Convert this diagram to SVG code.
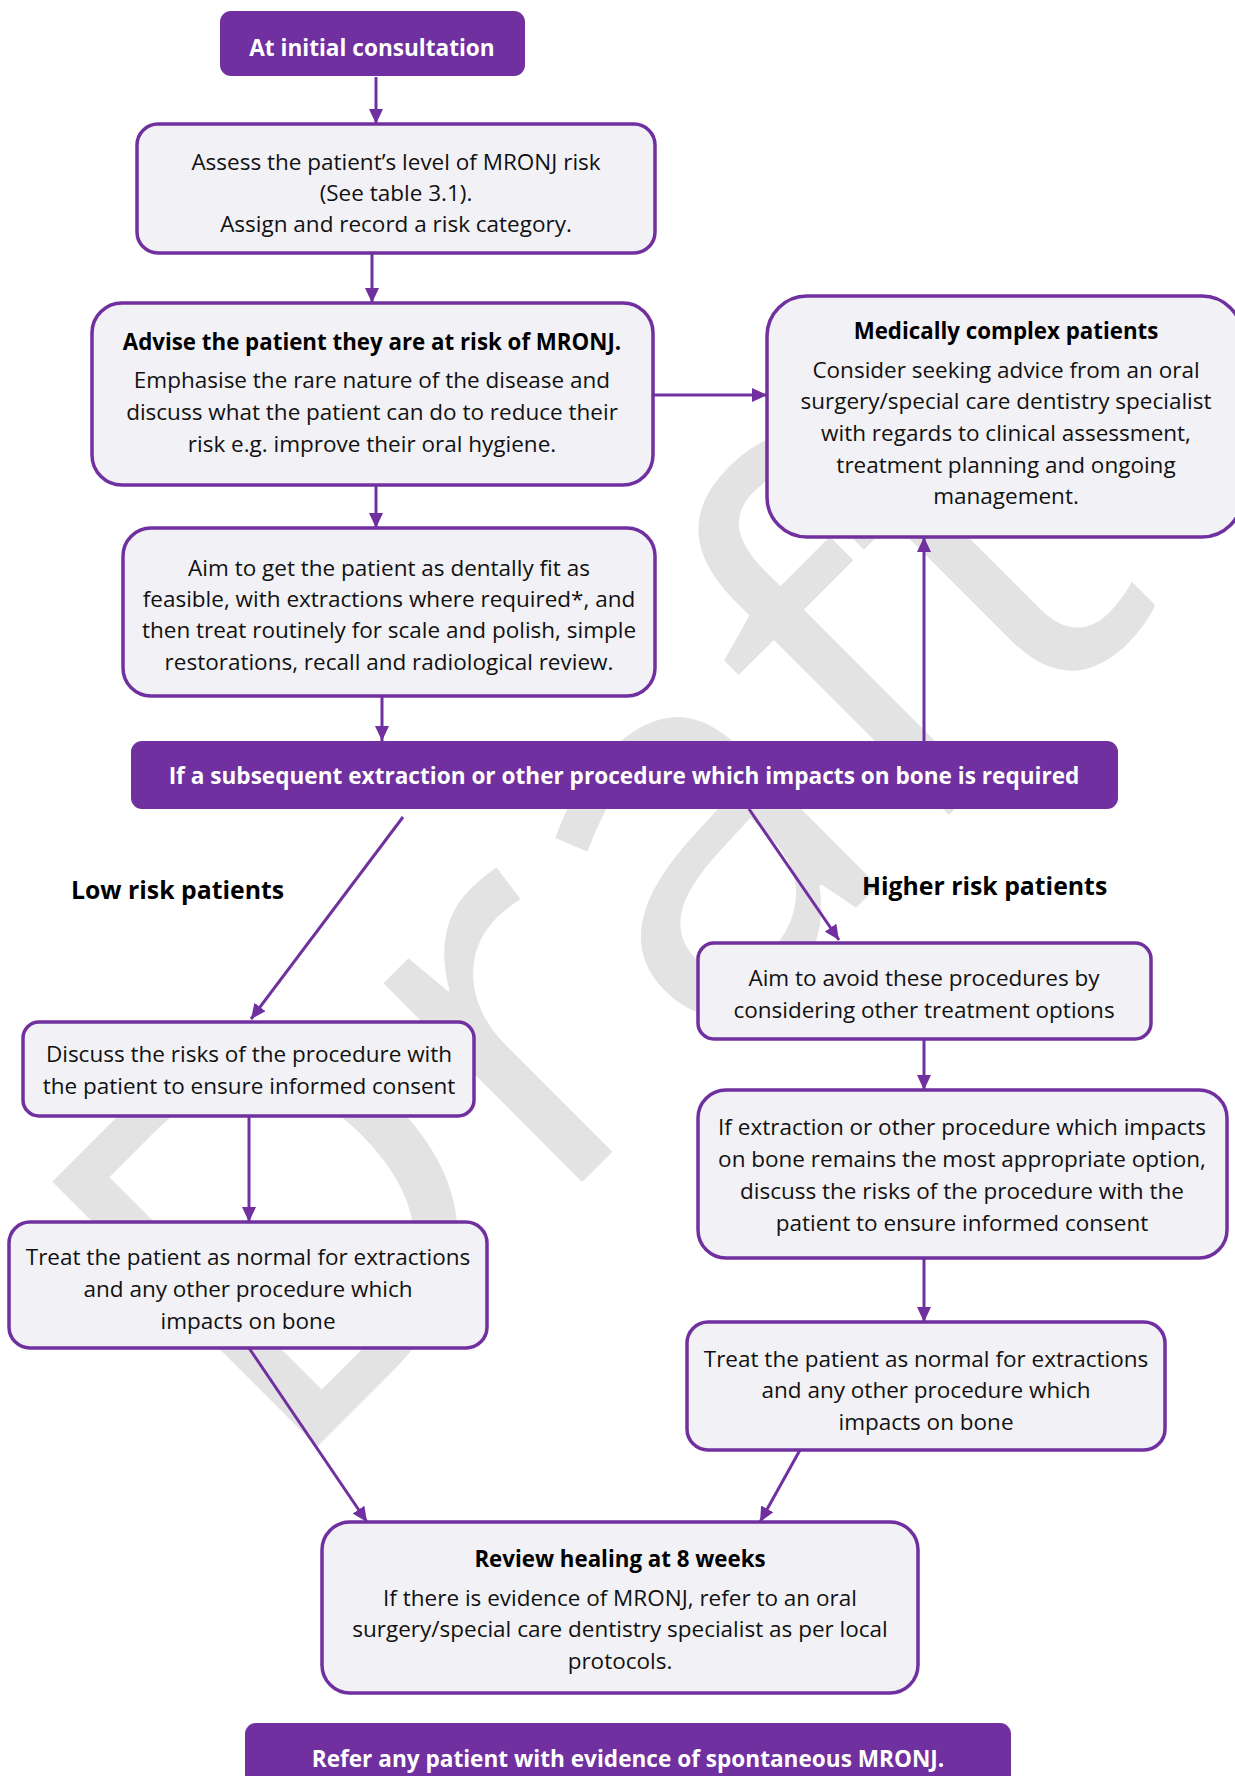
<svg xmlns="http://www.w3.org/2000/svg" width="1235" height="1776" viewBox="0 0 1235 1776">
<style>
.box{fill:#f2f1f6;stroke:#7030a0;stroke-width:3.5}
.ban{fill:#7030a0}
.t{font-family:"Open Sans","Noto Sans",sans-serif;font-size:22.5px;fill:#111;text-anchor:middle}
.b{font-family:"Open Sans","Noto Sans",sans-serif;font-size:22.3px;font-weight:bold;fill:#000;text-anchor:middle}
.w{font-family:"Open Sans","Noto Sans",sans-serif;font-size:22.6px;font-weight:bold;fill:#fff;text-anchor:middle}
.lab{font-family:"Open Sans","Noto Sans",sans-serif;font-size:24.8px;font-weight:bold;fill:#000}
.c{stroke:#7030a0;stroke-width:3;fill:none;marker-end:url(#ah)}
.wm{font-family:"Open Sans","Noto Sans",sans-serif;font-size:525px;fill:#e3e3e3}
</style>
<defs>
<marker id="ah" viewBox="0 0 15 14" markerWidth="15" markerHeight="14" refX="15" refY="7" orient="auto" markerUnits="userSpaceOnUse">
<path d="M0,0 L15,7 L0,14 z" fill="#7030a0"/>
</marker>
</defs>
<rect width="1235" height="1776" fill="#fff"/>
<text class="wm" transform="translate(281,1483) rotate(-45)">Draft</text>

<g id="connectors">
<line class="c" x1="376" y1="77" x2="376" y2="124"/>
<line class="c" x1="372" y1="253" x2="372" y2="303"/>
<line class="c" x1="653" y1="395" x2="767" y2="395"/>
<line class="c" x1="376" y1="485" x2="376" y2="528"/>
<line class="c" x1="382" y1="696" x2="382" y2="741"/>
<line class="c" x1="924" y1="741" x2="924" y2="537"/>
<line class="c" x1="403" y1="817" x2="251" y2="1019"/>
<line class="c" x1="749" y1="809" x2="839" y2="940"/>
<line class="c" x1="924" y1="1039" x2="924" y2="1090"/>
<line class="c" x1="924" y1="1258" x2="924" y2="1322"/>
<line class="c" x1="249" y1="1116" x2="249" y2="1222"/>
<line class="c" x1="249" y1="1348" x2="367" y2="1522"/>
<line class="c" x1="800" y1="1450" x2="760" y2="1522"/>
</g>

<g id="n1">
<rect class="ban" x="220" y="11" width="305" height="65" rx="11"/>
<text class="w" x="372" y="56">At initial consultation</text>
</g>
<g id="n2">
<rect class="box" x="137" y="124" width="518" height="129" rx="21"/>
<text class="t" x="396" y="170">Assess the patient’s level of MRONJ risk</text>
<text class="t" x="396" y="201">(See table 3.1).</text>
<text class="t" x="396" y="232">Assign and record a risk category.</text>
</g>
<g id="n3">
<rect class="box" x="92" y="303" width="561" height="182" rx="30"/>
<text class="b" x="372" y="350">Advise the patient they are at risk of MRONJ.</text>
<text class="t" x="372" y="388">Emphasise the rare nature of the disease and</text>
<text class="t" x="372" y="420">discuss what the patient can do to reduce their</text>
<text class="t" x="372" y="452">risk e.g. improve their oral hygiene.</text>
</g>
<g id="n4">
<rect class="box" x="767" y="296" width="475" height="241" rx="40"/>
<text class="b" x="1006" y="339">Medically complex patients</text>
<text class="t" x="1006" y="378">Consider seeking advice from an oral</text>
<text class="t" x="1006" y="409">surgery/special care dentistry specialist</text>
<text class="t" x="1006" y="441">with regards to clinical assessment,</text>
<text class="t" x="1006" y="473">treatment planning and ongoing</text>
<text class="t" x="1006" y="504">management.</text>
</g>
<g id="n5">
<rect class="box" x="123" y="528" width="532" height="168" rx="28"/>
<text class="t" x="389" y="576">Aim to get the patient as dentally fit as</text>
<text class="t" x="389" y="607">feasible, with extractions where required*, and</text>
<text class="t" x="389" y="638">then treat routinely for scale and polish, simple</text>
<text class="t" x="389" y="670">restorations, recall and radiological review.</text>
</g>
<g id="n6">
<rect class="ban" x="131" y="741" width="987" height="68" rx="11"/>
<text class="w" x="624" y="784">If a subsequent extraction or other procedure which impacts on bone is required</text>
</g>
<g id="lbl-low">
<text class="lab" x="71" y="899">Low risk patients</text>
</g>
<g id="lbl-high">
<text class="lab" x="862" y="895">Higher risk patients</text>
</g>
<g id="n7">
<rect class="box" x="698" y="943" width="453" height="96" rx="16"/>
<text class="t" x="924" y="986">Aim to avoid these procedures by</text>
<text class="t" x="924" y="1018">considering other treatment options</text>
</g>
<g id="n8">
<rect class="box" x="698" y="1090" width="529" height="168" rx="28"/>
<text class="t" x="962" y="1135">If extraction or other procedure which impacts</text>
<text class="t" x="962" y="1167">on bone remains the most appropriate option,</text>
<text class="t" x="962" y="1199">discuss the risks of the procedure with the</text>
<text class="t" x="962" y="1231">patient to ensure informed consent</text>
</g>
<g id="n9">
<rect class="box" x="687" y="1322" width="478" height="128" rx="21"/>
<text class="t" x="926" y="1367">Treat the patient as normal for extractions</text>
<text class="t" x="926" y="1398">and any other procedure which</text>
<text class="t" x="926" y="1430">impacts on bone</text>
</g>
<g id="n10">
<rect class="box" x="23" y="1022" width="451" height="94" rx="16"/>
<text class="t" x="249" y="1062">Discuss the risks of the procedure with</text>
<text class="t" x="249" y="1094">the patient to ensure informed consent</text>
</g>
<g id="n11">
<rect class="box" x="9" y="1222" width="478" height="126" rx="21"/>
<text class="t" x="248" y="1265">Treat the patient as normal for extractions</text>
<text class="t" x="248" y="1297">and any other procedure which</text>
<text class="t" x="248" y="1329">impacts on bone</text>
</g>
<g id="n12">
<rect class="box" x="322" y="1522" width="596" height="171" rx="28"/>
<text class="b" x="620" y="1567">Review healing at 8 weeks</text>
<text class="t" x="620" y="1606">If there is evidence of MRONJ, refer to an oral</text>
<text class="t" x="620" y="1637">surgery/special care dentistry specialist as per local</text>
<text class="t" x="620" y="1669">protocols.</text>
</g>
<g id="n13">
<rect class="ban" x="245" y="1723" width="766" height="80" rx="11"/>
<text class="w" x="628" y="1767">Refer any patient with evidence of spontaneous MRONJ.</text>
</g>
</svg>
